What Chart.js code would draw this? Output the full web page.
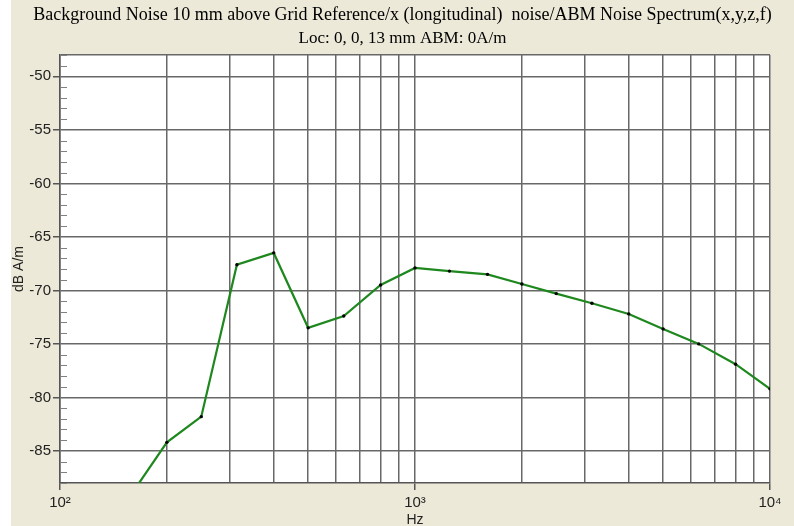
<!DOCTYPE html>
<html>
<head>
<meta charset="utf-8">
<script src="https://cdn.jsdelivr.net/npm/chart.js@4"></script>
<style>
  html, body { margin: 0; padding: 0; background: #ffffff; }
  #wrap { width: 794px; height: 526px; }
</style>
</head>
<body>
<div id="wrap"><canvas id="c" width="794" height="526"></canvas></div>
<script>
// ---- data ----
const titleText = 'Background Noise 10 mm above Grid Reference/x (longitudinal)  noise/ABM Noise Spectrum(x,y,z,f)';
const subtitleText = 'Loc: 0, 0, 13 mm ABM: 0A/m';
const frequenciesHz = [160, 200, 250, 315, 400, 500, 630, 800, 1000, 1250, 1600, 2000, 2500, 3150, 4000, 5000, 6300, 8000, 10000];
const noiseDb = [-88.9, -84.2, -81.8, -67.6, -66.5, -73.5, -72.4, -69.5, -67.9, -68.2, -68.5, -69.4, -70.3, -71.2, -72.2, -73.6, -75.0, -76.9, -79.2];
const xTickValues = [100, 200, 300, 400, 500, 600, 700, 800, 900, 1000, 2000, 3000, 4000, 5000, 6000, 7000, 8000, 9000, 10000];
const xDecadeLabels = { 100: '10\u00B2', 1000: '10\u00B3', 10000: '10\u2074' };
const yMin = -88, yMax = -48;
const xLabel = 'Hz';
const yLabel = 'dB A/m';

const GRID = '#686868';
const TICK = '#555555';
const BEIGE = '#ece9d8';

const bgPlugin = {
  id: 'bg',
  beforeDraw(chart) {
    const {ctx, width, height, chartArea} = chart;
    ctx.save();
    ctx.fillStyle = '#ffffff';
    ctx.fillRect(0, 0, width, height);
    ctx.fillStyle = BEIGE;
    ctx.fillRect(11, 0, width - 11, height);
    ctx.fillStyle = '#ffffff';
    ctx.fillRect(chartArea.left, chartArea.top, chartArea.right - chartArea.left, chartArea.bottom - chartArea.top);
    ctx.restore();
  }
};

const minorTickPlugin = {
  id: 'minorTicks',
  beforeDatasetsDraw(chart) {
    const {ctx, chartArea} = chart;
    const y = chart.scales.y;
    ctx.save();
    ctx.strokeStyle = '#808080';
    ctx.lineWidth = 1;
    ctx.beginPath();
    for (let v = yMin; v <= yMax; v++) {
      if (v % 5 === 0) continue;
      const py = Math.round(y.getPixelForValue(v)) + 0.5;
      ctx.moveTo(chartArea.left + 1, py);
      ctx.lineTo(chartArea.left + 7, py);
    }
    ctx.stroke();
    ctx.restore();
  }
};

Chart.defaults.font.family = "'Liberation Sans', Arial, 'DejaVu Sans', sans-serif";

new Chart(document.getElementById('c'), {
  type: 'line',
  data: {
    datasets: [{
      data: frequenciesHz.map((f, i) => ({x: f, y: noiseDb[i]})),
      borderColor: '#1e881e',
      borderWidth: 2.2,
      pointRadius: 1.7,
      pointHoverRadius: 1.7,
      pointBackgroundColor: '#000000',
      pointBorderWidth: 0,
      tension: 0,
      fill: false
    }]
  },
  options: {
    responsive: false,
    animation: false,
    devicePixelRatio: 1,
    layout: { padding: { left: 11, right: 0, top: 0, bottom: 0 } },
    plugins: {
      legend: { display: false },
      tooltip: { enabled: false },
      title: {
        display: true,
        text: titleText,
        color: '#000000',
        font: { family: "'Liberation Serif', 'Times New Roman', serif", size: 18, weight: 'normal', lineHeight: 1.25 },
        padding: { top: 4, bottom: 0 }
      },
      subtitle: {
        display: true,
        text: subtitleText,
        color: '#000000',
        font: { family: "'Liberation Serif', 'Times New Roman', serif", size: 17, weight: 'normal', lineHeight: 1.35 },
        padding: { top: 0.5, bottom: 5 }
      }
    },
    scales: {
      x: {
        type: 'logarithmic',
        min: 100,
        max: 10000,
        afterBuildTicks(scale) {
          scale.ticks = xTickValues.map(v => ({value: v}));
        },
        afterFit(scale) { scale.height = 43; },
        ticks: {
          autoSkip: false,
          maxRotation: 0,
          minRotation: 0,
          padding: 4,
          color: '#222222',
          font: { size: 15 },
          callback(value) { return xDecadeLabels[value] || ''; }
        },
        grid: {
          color: GRID,
          lineWidth: 1.5,
          tickLength: 7,
          tickColor(ctx) { return xDecadeLabels[ctx.tick && ctx.tick.value] ? TICK : 'rgba(0,0,0,0)'; }
        },
        border: { display: true, color: TICK, width: 1.5 },
        title: {
          display: true,
          text: xLabel,
          color: '#222222',
          font: { size: 14, lineHeight: 0.8 },
          padding: { top: 0, bottom: 0 }
        }
      },
      y: {
        type: 'linear',
        min: yMin,
        max: yMax,
        afterFit(scale) { scale.width = 49; },
        ticks: {
          stepSize: 1,
          autoSkip: false,
          padding: 2,
          color: '#222222',
          font: { size: 15 },
          callback(value) { return value % 5 === 0 ? String(value) : ''; }
        },
        grid: {
          color(ctx) {
            const v = ctx.tick && ctx.tick.value;
            return (v % 5 === 0 || v === yMax) ? GRID : 'rgba(0,0,0,0)';
          },
          lineWidth: 1.5,
          tickLength: 7,
          tickColor(ctx) {
            const v = ctx.tick && ctx.tick.value;
            return v % 5 === 0 ? TICK : 'rgba(0,0,0,0)';
          }
        },
        border: { display: true, color: TICK, width: 1.5 },
        title: {
          display: true,
          text: yLabel,
          color: '#222222',
          font: { size: 14, lineHeight: 1.15 },
          padding: { top: 0, bottom: 0 }
        }
      },
      y2: {
        type: 'linear',
        position: 'right',
        display: true,
        afterFit(scale) { scale.width = 24; },
        grid: { display: false, drawTicks: false },
        ticks: { display: false },
        border: { display: false }
      }
    }
  },
  plugins: [bgPlugin, minorTickPlugin]
});
</script>
</body>
</html>
